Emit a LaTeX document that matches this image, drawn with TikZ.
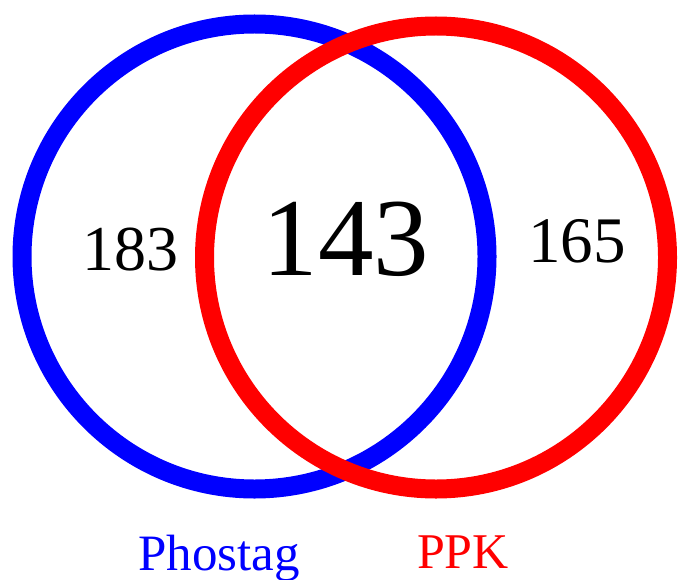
\documentclass[tikz,border=0pt]{standalone}
\usepackage{fontspec}
\setmainfont{Liberation Serif}
\newfontfamily\tnr{Liberation Serif}
\definecolor{setblue}{RGB}{0,0,255}
\definecolor{setred}{RGB}{255,0,0}
\tikzset{
  ring/.style={circle, draw, line width=19pt, inner sep=0pt},
  count/.style={anchor=base, inner sep=0pt, text=black},
  setlabel/.style={anchor=base, inner sep=0pt}
}
\begin{document}
\begin{tikzpicture}[x=1pt,y=-1pt]
\useasboundingbox (0,0) rectangle (679,580);
\node[ring, draw=setblue, minimum size=465pt] (phostag) at (254.5,256.5) {};
\node[ring, draw=setred, minimum size=463pt] (ppk) at (436,257.5) {};
\node[count, font=\tnr\fontsize{64}{64}\selectfont] (n183) at (130,270) {183};
\node[count, font=\tnr\fontsize{111}{111}\selectfont] (n143) at (346,275) {143};
\node[count, font=\tnr\fontsize{65}{65}\selectfont] (n165) at (577,262) {165};
\node[setlabel, text=setblue, font=\tnr\fontsize{51}{51}\selectfont] (lphostag) at (219,570) {Phostag};
\node[setlabel, text=setred, font=\tnr\fontsize{50}{50}\selectfont] (lppk) at (463,568) {PPK};
\end{tikzpicture}
\end{document}
